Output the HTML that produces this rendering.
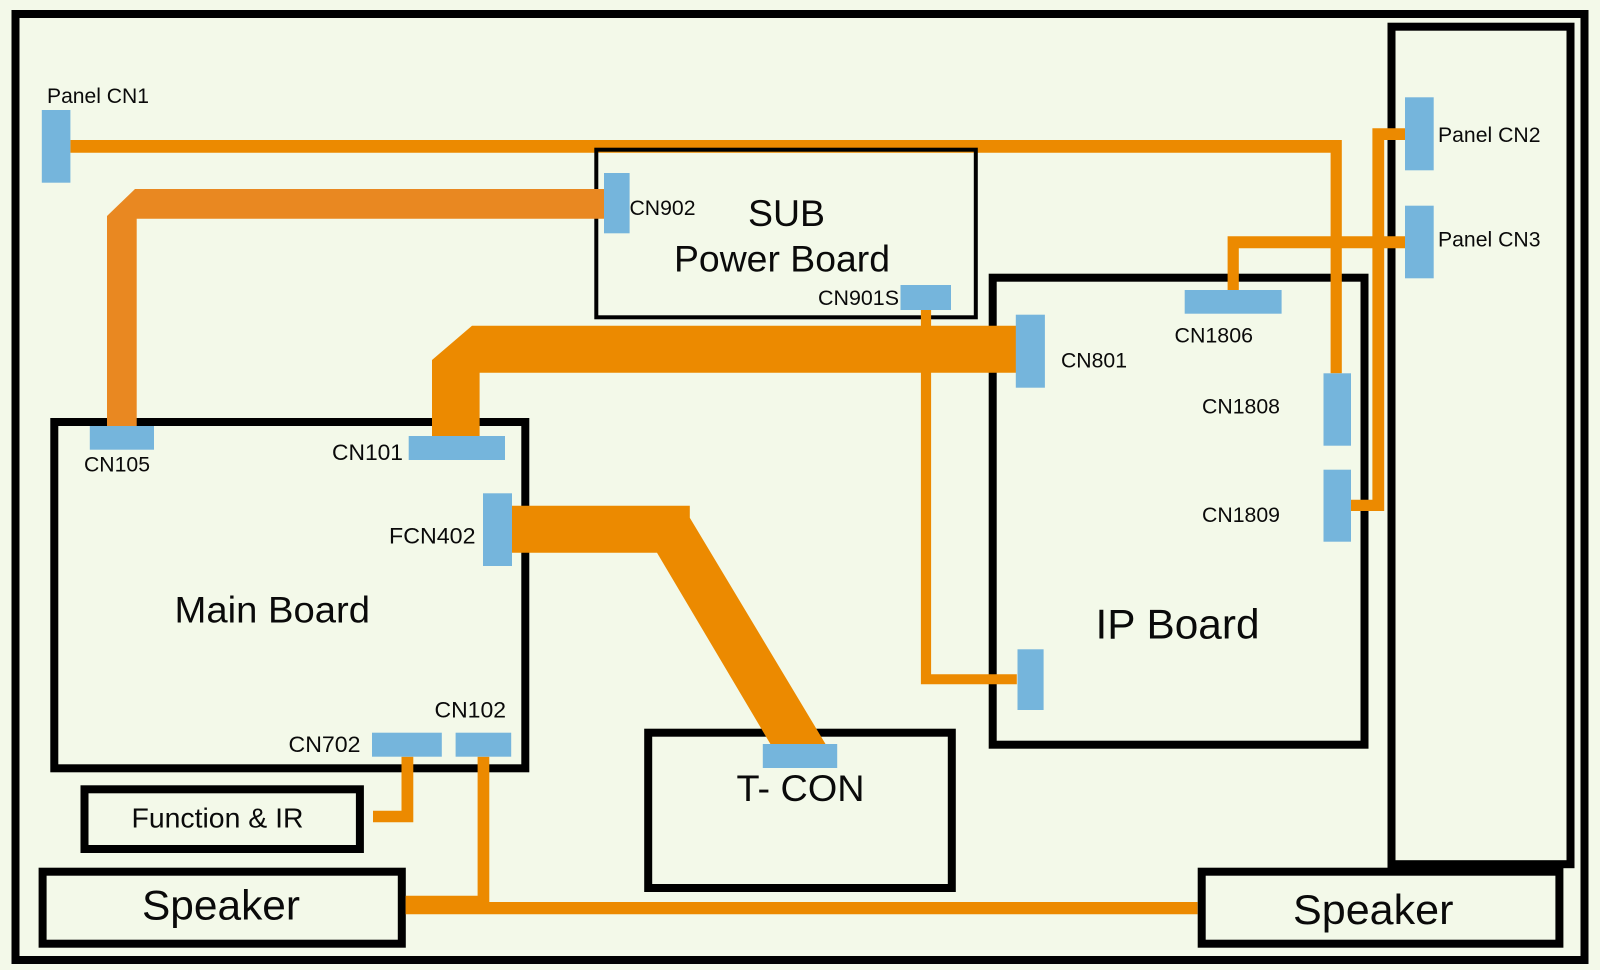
<!DOCTYPE html>
<html>
<head>
<meta charset="utf-8">
<style>
html,body{margin:0;padding:0;background:#F3F9E9;}
svg{display:block;}
text{font-family:"Liberation Sans",sans-serif;fill:#0a0a0a;}
</style>
</head>
<body>
<svg width="1600" height="970" viewBox="0 0 1600 970" xmlns="http://www.w3.org/2000/svg">
<rect width="1600" height="970" fill="#F3F9E9"/>
<g fill="none" stroke="#000" stroke-width="8">
<rect x="15.5" y="14" width="1569" height="946"/>
<rect x="1391.5" y="26.7" width="179" height="837.5"/>
<rect x="992.7" y="277.7" width="371.8" height="467"/>
<rect x="54.3" y="422" width="471" height="346.3"/>
<rect x="648.2" y="732.7" width="303.6" height="155.3"/>
<rect x="84.5" y="789.3" width="275.4" height="59.7"/>
<rect x="42.6" y="871.7" width="359.2" height="72"/>
<rect x="1201.7" y="871.7" width="357.7" height="72"/>
</g>
<!-- top line -->
<path d="M70.4 140H1341.8V373.3H1330.6V152.7H70.4Z" fill="#EC8A00"/>
<!-- SUB box -->
<rect x="596.3" y="149.7" width="379.5" height="167.6" fill="none" stroke="#000" stroke-width="4"/>
<!-- thick connectors -->
<path d="M604 189H135L107 216V426H136.7V218.7H604Z" fill="#E98821"/>
<path d="M1016 325.7H472L432 360V436H479.6V372.7H1016Z" fill="#EC8A00"/>
<path d="M512 505.7H689.8V517.7L825.5 744H770.4L657 552.7H512Z" fill="#EC8A00"/>
<!-- thin connectors -->
<g fill="#EC8A00">
<path d="M920.9 310H931.1V674.3H1016.8V684.3H920.9Z"/>
<path d="M1227.6 290V236.3H1405V248.3H1238.8V290Z"/>
<path d="M1405 128.3H1372.4V499.7H1351V511H1384.2V140H1405Z"/>
<path d="M401.5 756.7H413.3V822.3H373V810.7H401.5Z"/>
<path d="M477.6 756.7H489.3V902H1197.5V914.3H405.6V895.7H477.6Z"/>
</g>
<!-- connectors blue -->
<g fill="#75B5DC">
<rect x="41.8" y="110" width="28.6" height="72.7"/>
<rect x="604" y="173" width="25.6" height="60.3"/>
<rect x="1015.8" y="314.7" width="29.1" height="73"/>
<rect x="900.5" y="285" width="50.5" height="25"/>
<rect x="1017.5" y="649.3" width="26.1" height="60.7"/>
<rect x="1184.7" y="290" width="96.9" height="23.7"/>
<rect x="1323.5" y="373.3" width="27.5" height="72.4"/>
<rect x="1323.5" y="469.7" width="27.5" height="72"/>
<rect x="1405" y="97.3" width="28.7" height="73"/>
<rect x="1405" y="205.7" width="28.7" height="72.6"/>
<rect x="89.8" y="426" width="64.2" height="23.7"/>
<rect x="408.7" y="436" width="96.3" height="24"/>
<rect x="483" y="493.3" width="29" height="72.7"/>
<rect x="762.8" y="744" width="74.4" height="24"/>
<rect x="372" y="732.7" width="69.8" height="24"/>
<rect x="455.6" y="732.7" width="55.6" height="24"/>
</g>
<!-- labels -->
<g font-size="21">
<text x="47" y="103" textLength="102" lengthAdjust="spacingAndGlyphs">Panel CN1</text>
<text x="629.5" y="215" textLength="66" lengthAdjust="spacingAndGlyphs">CN902</text>
<text x="84" y="471.5" textLength="66" lengthAdjust="spacingAndGlyphs">CN105</text>
<text x="818" y="305" textLength="81" lengthAdjust="spacingAndGlyphs">CN901S</text>
<text x="1061" y="367.5" textLength="66" lengthAdjust="spacingAndGlyphs">CN801</text>
<text x="1174.5" y="342.5" textLength="78.5" lengthAdjust="spacingAndGlyphs">CN1806</text>
<text x="1202" y="413.5" textLength="78" lengthAdjust="spacingAndGlyphs">CN1808</text>
<text x="1202" y="521.8" textLength="78" lengthAdjust="spacingAndGlyphs">CN1809</text>
<text x="1438" y="142" textLength="102.5" lengthAdjust="spacingAndGlyphs">Panel CN2</text>
<text x="1438" y="246.3" textLength="102.5" lengthAdjust="spacingAndGlyphs">Panel CN3</text>
</g>
<g font-size="22">
<text x="332" y="460" textLength="71" lengthAdjust="spacingAndGlyphs">CN101</text>
<text x="389" y="543.5" textLength="86.5" lengthAdjust="spacingAndGlyphs">FCN402</text>
<text x="434.5" y="717.3" textLength="71.5" lengthAdjust="spacingAndGlyphs">CN102</text>
<text x="288.5" y="752.2" textLength="72" lengthAdjust="spacingAndGlyphs">CN702</text>
</g>
<text x="748" y="226.2" font-size="37" textLength="77" lengthAdjust="spacingAndGlyphs">SUB</text>
<text x="674" y="271.5" font-size="37" textLength="216" lengthAdjust="spacingAndGlyphs">Power Board</text>
<text x="174.5" y="622.3" font-size="37.5" textLength="195.5" lengthAdjust="spacingAndGlyphs">Main Board</text>
<text x="1095.5" y="638.3" font-size="41.5" textLength="164" lengthAdjust="spacingAndGlyphs">IP Board</text>
<text x="736.5" y="800.8" font-size="37" textLength="128" lengthAdjust="spacingAndGlyphs">T- CON</text>
<text x="131.5" y="827.5" font-size="28" textLength="172" lengthAdjust="spacingAndGlyphs">Function &amp; IR</text>
<text x="142" y="919.3" font-size="42" textLength="158" lengthAdjust="spacingAndGlyphs">Speaker</text>
<text x="1293" y="924" font-size="42" textLength="160.5" lengthAdjust="spacingAndGlyphs">Speaker</text>
</svg>
</body>
</html>
